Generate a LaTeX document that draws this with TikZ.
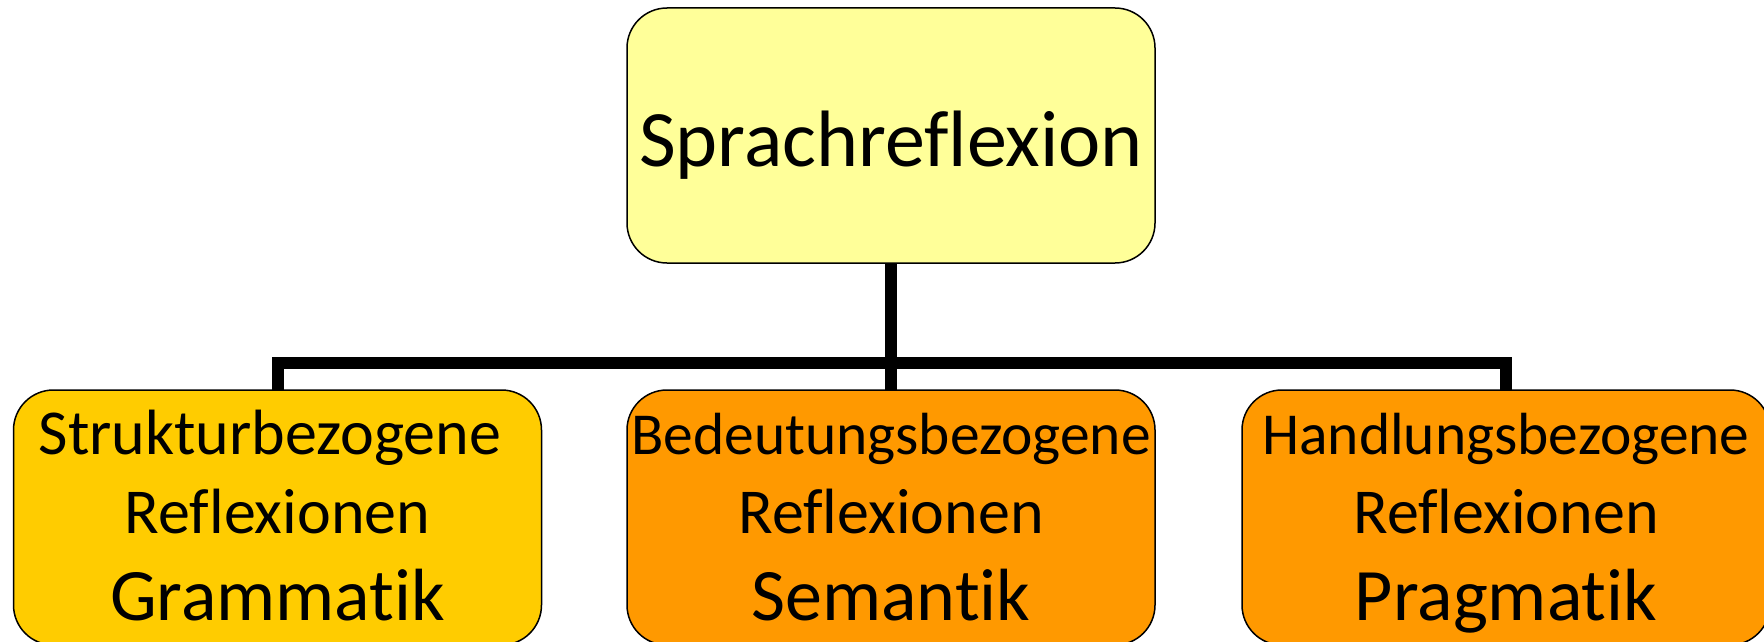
\documentclass[tikz,border=0pt]{standalone}
\usepackage{fontspec}
\setmainfont{Carlito}[Ligatures=NoCommon]
\definecolor{topfill}{HTML}{FFFF99}
\definecolor{goldfill}{HTML}{FFCC00}
\definecolor{orangefill}{HTML}{FF9900}
\begin{document}
\begin{tikzpicture}[x=1pt,y=-1pt,
  box/.style={draw=black, line width=1.5pt, rounded corners=40pt, minimum width=528pt, minimum height=255pt, inner sep=0pt, outer sep=0pt},
  conn/.style={line width=12pt, draw=black},
  bigtext/.style={font=\fontsize{80}{96}\selectfont, anchor=base, inner sep=0pt},
  midtext/.style={font=\fontsize{64}{77}\selectfont, anchor=base, inner sep=0pt},
  smalltext/.style={font=\fontsize{59.5}{72}\selectfont, anchor=base, inner sep=0pt},
  largetext/.style={font=\fontsize{74}{89}\selectfont, anchor=base, inner sep=0pt}]
\useasboundingbox (0,0) rectangle (1764,642);
\begin{scope}
\clip (0,0) rectangle (1764,642);
\node[box, fill=topfill] (top) at (891,135.5) {};
\node[box, fill=goldfill] (left) at (277.5,517.5) {};
\node[box, fill=orangefill] (middle) at (891,517.5) {};
\node[box, fill=orangefill] (right) at (1506,517.5) {};
\coordinate (bus) at (891,363);
\draw[conn] (top.south) -- (bus);
\draw[conn] (left.north) |- (bus) -| (right.north);
\draw[conn] (bus) -- (middle.north);
\node[bigtext] (t0) at (891,166) {Sprachreflexion};
\node[midtext] (l1) at (270,454) {Strukturbezogene};
\node[midtext] (l2) at (277.5,533) {Reflexionen};
\node[largetext] (l3) at (277.5,620) {Grammatik};
\node[smalltext] (m1) at (891,454) {Bedeutungsbezogene};
\node[midtext] (m2) at (891,533) {Reflexionen};
\node[largetext] (m3) at (891,620) {Semantik};
\node[smalltext] (r1) at (1506,454) {Handlungsbezogene};
\node[midtext] (r2) at (1506,533) {Reflexionen};
\node[largetext] (r3) at (1506,620) {Pragmatik};
\end{scope}
\end{tikzpicture}
\end{document}
